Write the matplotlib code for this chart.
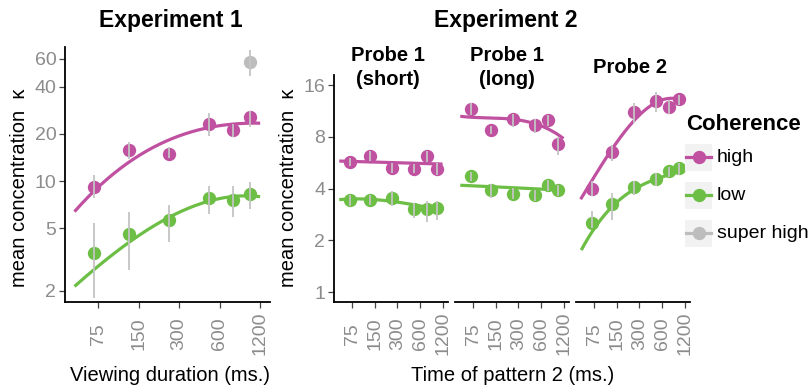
import numpy as np
import matplotlib
matplotlib.use('Agg')
import matplotlib.pyplot as plt
from matplotlib.lines import Line2D
from matplotlib.patches import Rectangle

plt.rcParams['font.family'] = ['Liberation Sans', 'DejaVu Sans']

# ---------------- data ----------------
durations = [70, 128, 250, 500, 750, 1000]
x_ticks = [75, 150, 300, 600, 1200]
exp1_y_ticks = [2, 5, 10, 20, 40, 60]
exp2_y_ticks = [1, 2, 4, 8, 16]

# Experiment 1
exp1_high = [9.2, 15.8, 15.0, 23.1, 21.1, 25.5]
exp1_high_lo = [7.8, 13.9, 14.0, 19.3, 19.0, 22.0]
exp1_high_hi = [10.9, 17.8, 16.5, 27.0, 23.0, 28.0]
exp1_low = [3.5, 4.58, 5.62, 7.76, 7.57, 8.3]
exp1_low_lo = [1.79, 2.72, 4.1, 6.2, 5.9, 6.6]
exp1_low_hi = [5.38, 6.37, 7.1, 9.3, 9.3, 9.9]
exp1_super_x = [1000]
exp1_super = [57.0]
exp1_super_lo = [46.7]
exp1_super_hi = [68.5]

# fitted curves (x, y)
exp1_high_fit_x = [50, 70, 150, 300, 533, 800, 1200]
exp1_high_fit_y = [6.37, 8.7, 14.6, 19.1, 22.4, 23.3, 23.3]
exp1_low_fit_x = [50, 70, 128, 250, 500, 750, 1200]
exp1_low_fit_y = [2.15, 2.71, 4.1, 5.9, 7.48, 7.9, 8.0]

# Experiment 2 panels
panel_titles = ["Probe 1\n(short)", "Probe 1\n(long)", "Probe 2"]

p1s_high = [5.71, 6.21, 5.27, 5.22, 6.15, 5.20]
p1s_high_lo = [5.39, 5.76, 4.95, 4.90, 5.72, 4.82]
p1s_high_hi = [6.02, 6.63, 5.63, 5.58, 6.63, 5.63]
p1s_low = [3.42, 3.44, 3.54, 3.03, 3.03, 3.07]
p1s_low_lo = [3.16, 3.19, 3.16, 2.70, 2.55, 2.64]
p1s_low_hi = [3.69, 3.69, 3.86, 3.30, 3.37, 3.37]
p1s_high_fit_x = [50, 300, 1200]
p1s_high_fit_y = [5.78, 5.65, 5.55]
p1s_low_fit_x = [50, 150, 300, 600, 1200]
p1s_low_fit_y = [3.45, 3.44, 3.35, 3.16, 2.99]

p1l_high = [11.6, 8.78, 10.17, 9.39, 10.03, 7.29]
p1l_high_lo = [10.7, 8.3, 9.1, 8.4, 9.2, 6.28]
p1l_high_hi = [12.6, 9.2, 10.9, 10.1, 10.7, 8.0]
p1l_low = [4.71, 3.91, 3.74, 3.66, 4.18, 3.91]
p1l_low_lo = [4.4, 3.54, 3.49, 3.39, 3.86, 3.60]
p1l_low_hi = [4.97, 4.27, 4.04, 3.91, 4.5, 4.18]
p1l_high_fit_x = [50, 100, 250, 500, 750, 1200]
p1l_high_fit_y = [10.5, 10.4, 10.03, 9.51, 8.96, 7.78]
p1l_low_fit_x = [50, 300, 1200]
p1l_low_fit_y = [4.18, 4.03, 3.91]

p2_high = [4.0, 6.52, 11.1, 13.0, 12.0, 13.2]
p2_high_lo = [3.6, 5.8, 9.6, 11.2, 10.9, 12.2]
p2_high_hi = [4.4, 7.2, 12.6, 14.6, 13.1, 14.0]
p2_low = [2.53, 3.26, 4.09, 4.57, 5.04, 5.27]
p2_low_lo = [2.35, 2.63, 3.68, 4.12, 4.68, 4.8]
p2_low_hi = [2.95, 3.77, 4.4, 4.9, 5.35, 5.6]
p2_high_fit_x = [49, 71, 128, 248, 498, 725, 1000, 1200]
p2_high_fit_y = [3.54, 4.4, 6.57, 10.5, 12.5, 12.9, 13.1, 13.2]
p2_low_fit_x = [50, 63, 128, 248, 498, 1000, 1200]
p2_low_fit_y = [1.74, 2.12, 3.09, 3.95, 4.55, 4.97, 5.15]

legend_labels = ["high", "low", "super high"]

# ---------------- style ----------------
C_HIGH = '#C050A0'
C_LOW = '#6CBE45'
C_SUPER = '#BDBDBD'
C_ERR = '#C4C4C4'
C_TICKLAB = '#8C8C8C'
C_TICK = '#444444'

W, H = 810, 386
fig = plt.figure(figsize=(W / 100, H / 100), dpi=100)


def fx(px):
    return px / W


def fy(py):
    return 1 - py / H


def add_axes_px(left, top, right, bottom):
    return fig.add_axes([fx(left), fy(bottom), (right - left) / W, (bottom - top) / H])


XLIM = (42.5, 1420)
MS = 9.6


def smooth(ax, xs, ys, color):
    lx, ly = np.log(xs), np.log(ys)
    deg = min(3, len(xs) - 1)
    c = np.polyfit(lx, ly, deg)
    g = np.linspace(lx.min(), lx.max(), 200)
    ax.plot(np.exp(g), np.exp(np.polyval(c, g)), color=color, lw=2.3,
            solid_capstyle='butt', zorder=2)


def points(ax, xs, ys, lo, hi, color):
    ax.plot(xs, ys, 'o', color=color, ms=MS, mec='none', zorder=3)
    ax.vlines(xs, lo, hi, color=C_ERR, lw=1.3, zorder=4)


def style_axis(ax, yticks, ylim, show_y):
    ax.set_xscale('log')
    ax.set_yscale('log')
    ax.set_xlim(*XLIM)
    ax.set_ylim(*ylim)
    ax.minorticks_off()
    ax.set_xticks(x_ticks)
    ax.set_xticklabels([str(t) for t in x_ticks])
    ax.tick_params(axis='x', length=4.3, width=0.9, color=C_TICK,
                   labelsize=14, labelcolor=C_TICKLAB, pad=18.5)
    for lab in ax.get_xticklabels():
        lab.set_rotation(90)
        lab.set_va('center')
        lab.set_ha('center')
    for s in ['top', 'right']:
        ax.spines[s].set_visible(False)
    ax.spines['bottom'].set_linewidth(1.3)
    ax.spines['bottom'].set_color('black')
    if show_y:
        ax.set_yticks(yticks)
        ax.set_yticklabels([str(t) for t in yticks])
        ax.tick_params(axis='y', length=4.3, width=0.9, color=C_TICK,
                       labelsize=14, labelcolor=C_TICKLAB, pad=2)
        ax.spines['left'].set_linewidth(1.3)
        ax.spines['left'].set_color('black')
    else:
        ax.spines['left'].set_visible(False)
        ax.set_yticks([])
    ax.patch.set_alpha(0)


# ---------------- Experiment 1 ----------------
ax1 = add_axes_px(65, 47, 270, 302)
smooth(ax1, exp1_high_fit_x, exp1_high_fit_y, C_HIGH)
smooth(ax1, exp1_low_fit_x, exp1_low_fit_y, C_LOW)
points(ax1, durations, exp1_high, exp1_high_lo, exp1_high_hi, C_HIGH)
points(ax1, durations, exp1_low, exp1_low_lo, exp1_low_hi, C_LOW)
points(ax1, exp1_super_x, exp1_super, exp1_super_lo, exp1_super_hi, C_SUPER)
style_axis(ax1, exp1_y_ticks, (1.70, 71.5), True)

# ---------------- Experiment 2 ----------------
panels = [
    (p1s_high, p1s_high_lo, p1s_high_hi, p1s_low, p1s_low_lo, p1s_low_hi,
     p1s_high_fit_x, p1s_high_fit_y, p1s_low_fit_x, p1s_low_fit_y),
    (p1l_high, p1l_high_lo, p1l_high_hi, p1l_low, p1l_low_lo, p1l_low_hi,
     p1l_high_fit_x, p1l_high_fit_y, p1l_low_fit_x, p1l_low_fit_y),
    (p2_high, p2_high_lo, p2_high_hi, p2_low, p2_low_lo, p2_low_hi,
     p2_high_fit_x, p2_high_fit_y, p2_low_fit_x, p2_low_fit_y),
]
lefts = [334, 455, 576]
title_x = [388, 506.5, 630]
for i, (pd, left) in enumerate(zip(panels, lefts)):
    (hi, hlo, hhi, lo, llo, lhi, hfx, hfy, lfx, lfy) = pd
    ax = add_axes_px(left, 75, left + 114, 302)
    smooth(ax, hfx, hfy, C_HIGH)
    smooth(ax, lfx, lfy, C_LOW)
    points(ax, durations, hi, hlo, hhi, C_HIGH)
    points(ax, durations, lo, llo, lhi, C_LOW)
    style_axis(ax, exp2_y_ticks, (0.875, 18.3), i == 0)
    fig.text(fx(title_x[i]), fy(67.5), panel_titles[i], ha='center', va='center',
             fontsize=14.5, fontweight='bold', linespacing=1.3)

# ---------------- text ----------------
fig.text(fx(170.5), fy(21), "Experiment 1", ha='center', va='center',
         fontsize=16.5, fontweight='bold')
fig.text(fx(506), fy(21), "Experiment 2", ha='center', va='center',
         fontsize=16.5, fontweight='bold')
fig.text(fx(20), fy(187.5), "mean concentration  \u03ba", rotation=90,
         ha='center', va='center', fontsize=14.5)
fig.text(fx(288), fy(187.5), "mean concentration  \u03ba", rotation=90,
         ha='center', va='center', fontsize=14.5)
fig.text(fx(170), fy(381), "Viewing duration (ms.)", ha='center', va='baseline',
         fontsize=14.5)
fig.text(fx(513), fy(381), "Time of pattern 2 (ms.)", ha='center', va='baseline',
         fontsize=14.5)

# ---------------- legend ----------------
fig.text(fx(686), fy(125), "Coherence", ha='left', va='center',
         fontsize=16, fontweight='bold')
leg_colors = [C_HIGH, C_LOW, C_SUPER]
leg_y = [157, 195, 233]
for lab, col, yy in zip(legend_labels, leg_colors, leg_y):
    fig.add_artist(Rectangle((fx(685), fy(yy + 13.5)), 27 / W, 27 / H,
                             transform=fig.transFigure, facecolor='#F2F2F2',
                             edgecolor='none'))
    fig.add_artist(Line2D([fx(686), fx(711)], [fy(yy), fy(yy)],
                          transform=fig.transFigure, color=col, lw=2.3))
    fig.add_artist(Line2D([fx(698.5)], [fy(yy)], transform=fig.transFigure,
                          marker='o', color=col, ms=MS, mec='none'))
    fig.text(fx(717), fy(yy), lab, ha='left', va='center', fontsize=14)

fig.savefig('out.png', dpi=100)
